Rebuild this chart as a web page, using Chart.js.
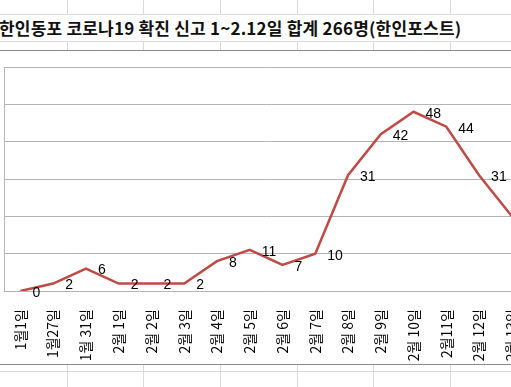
<!DOCTYPE html>
<html>
<head>
<meta charset="utf-8">
<script src="https://cdn.jsdelivr.net/npm/chart.js@4/dist/chart.umd.min.js"></script>
<style>
  html, body { margin: 0; padding: 0; width: 511px; height: 387px; overflow: hidden; background: #fff; }
  .h { position: absolute; left: 0; width: 511px; height: 1px; background: #dadada; }
  .v { position: absolute; width: 1px; background: #dadada; }
  #title { position: absolute; left: -1px; top: 15px; height: 27px; line-height: 28px;
    font: bold 17px "Noto Sans CJK KR", sans-serif; color: #111; white-space: nowrap; letter-spacing: 0.2px; }
  #box { position: absolute; left: 0; top: 50px; width: 547px; height: 315px; background: #fff;
    border-top: 1px solid #8a8a8a; border-bottom: 1px solid #8a8a8a; box-sizing: border-box; }
</style>
</head>
<body>
<div class="h" style="top:14px"></div>
<div class="h" style="top:41px"></div>
<div class="h" style="top:371px"></div>
<div id="sheetCols"></div>
<div id="title">한인동포 코로나19 확진 신고 1~2.12일 합계 266명(한인포스트)</div>
<div id="box"><canvas id="covidChart" width="547" height="313"></canvas></div>
<script>
const dates = ['1월1일', '1월27일', '1월 31일', '2월 1일', '2월 2일', '2월 3일', '2월 4일', '2월 5일',
  '2월 6일', '2월 7일', '2월 8일', '2월 9일', '2월 10일', '2월11일', '2월 12일', '2월 13일'];
const cases = [0, 2, 6, 2, 2, 2, 8, 11, 7, 10, 31, 42, 48, 44, 31, 20];
const yTicks = [0, 10, 20, 30, 40, 50, 60];

// spreadsheet column lines (outside the title row)
const cols = document.getElementById('sheetCols');
[67, 143, 220, 297, 373, 450].forEach(x => {
    [[0, 14], [41, 9], [365, 22]].forEach(([top, h]) => {
        const d = document.createElement('div');
        d.className = 'v';
        d.style.left = x + 'px';
        d.style.top = top + 'px';
        d.style.height = h + 'px';
        cols.appendChild(d);
    });
});

const valueLabels = {
    id: 'valueLabels',
    afterDatasetsDraw(chart) {
        const ctx = chart.ctx;
        const meta = chart.getDatasetMeta(0);
        ctx.save();
        ctx.font = '14px "Liberation Sans", sans-serif';
        ctx.fillStyle = '#000';
        ctx.textAlign = 'left';
        ctx.textBaseline = 'middle';
        meta.data.forEach((pt, i) => {
            ctx.fillText(cases[i], pt.x + 12, pt.y + 2);
        });
        ctx.restore();
    }
};

new Chart(document.getElementById('covidChart'), {
    type: 'line',
    data: {
        labels: dates,
        datasets: [{
            data: cases,
            borderColor: '#be4b48',
            borderWidth: 2.5,
            pointRadius: 0,
            tension: 0,
            fill: false
        }]
    },
    options: {
        responsive: false,
        animation: false,
        layout: { padding: { left: 4, top: 16, right: 11, bottom: 0 } },
        plugins: { legend: { display: false }, tooltip: { enabled: false } },
        scales: {
            x: {
                offset: true,
                grid: { display: false, drawTicks: false },
                border: { display: true, color: '#b5b5b5', width: 1 },
                ticks: {
                    autoSkip: false, maxRotation: 90, minRotation: 90, padding: 18,
                    color: '#000', font: { family: '"Noto Sans CJK KR"', size: 14 }
                },
                afterFit: s => { s.height = 73; }
            },
            y: {
                min: 0, max: 60,
                afterBuildTicks: s => { s.ticks = yTicks.map(v => ({ value: v })); },
                grid: { color: '#b5b5b5', drawTicks: false },
                border: { display: true, color: '#b5b5b5' },
                ticks: { display: false },
                afterFit: s => { s.width = 0; }
            }
        }
    },
    plugins: [valueLabels]
});
</script>
</body>
</html>
